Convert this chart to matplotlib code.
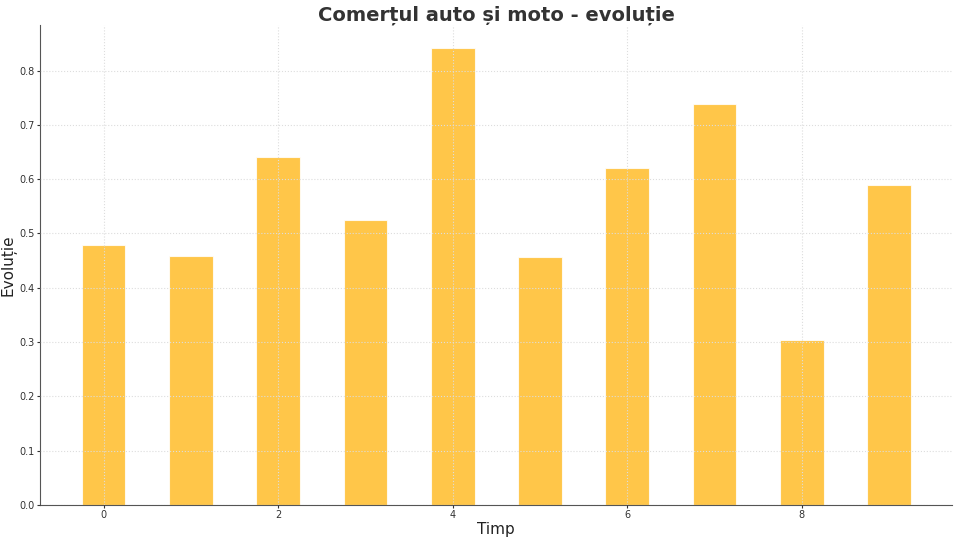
import matplotlib
matplotlib.use('Agg')
import matplotlib.pyplot as plt
import numpy as np

timp = np.arange(10)
evolutie = [0.478, 0.458, 0.640, 0.524, 0.842, 0.456, 0.621, 0.739, 0.303, 0.590]

fig, ax = plt.subplots(figsize=(9.6, 5.4), dpi=100)
ax.bar(timp, evolutie, width=0.5, color='#FFB81C', alpha=0.8, edgecolor='white', linewidth=0.8, zorder=2)

ax.grid(True, color='#dddddd', linestyle=':', linewidth=0.8, zorder=3)
ax.set_axisbelow(False)
for s in ['top', 'right']:
    ax.spines[s].set_visible(False)
for s in ['left', 'bottom']:
    ax.spines[s].set_color('#555555')

ax.tick_params(labelsize=7, colors='#333333', length=2, pad=2)
ax.set_xlabel('Timp', fontsize=11, color='#222222', labelpad=1)
ax.set_ylabel('Evoluție', fontsize=11, color='#222222', labelpad=2)
ax.set_title('Comerțul auto și moto - evoluție', fontsize=14, fontweight='bold', color='#333333', pad=1)

plt.subplots_adjust(left=0.042, right=0.992, top=0.954, bottom=0.065)
plt.savefig('out.png')
